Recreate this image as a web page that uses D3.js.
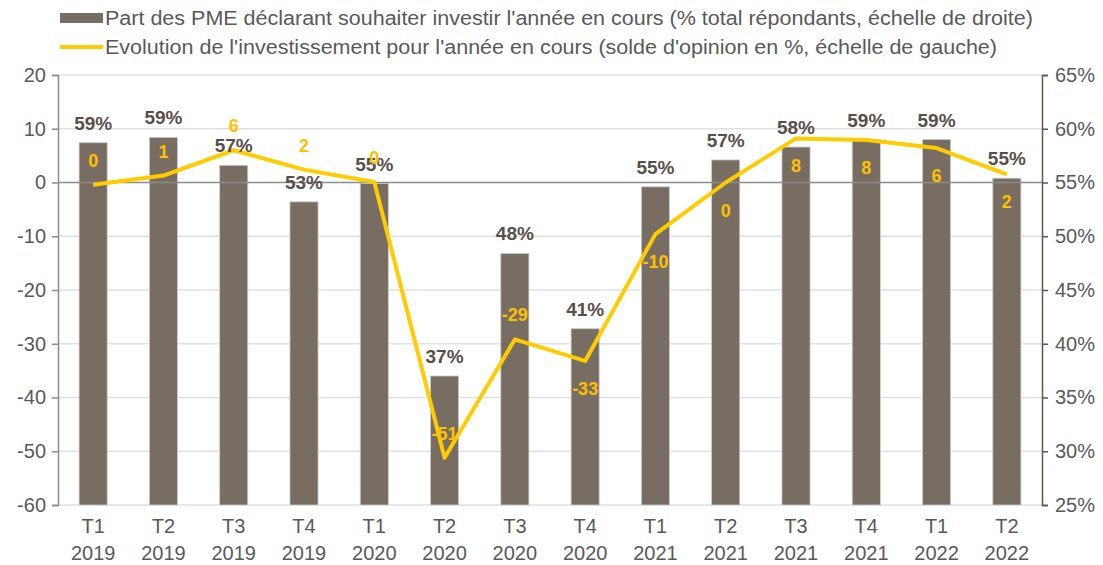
<!DOCTYPE html>
<html>
<head>
<meta charset="utf-8">
<script src="https://cdn.jsdelivr.net/npm/d3@7"></script>
<style>
  body { margin: 0; background: #fff; }
  text { font-family: "Liberation Sans", Arial, sans-serif; }
</style>
</head>
<body>
<script>
//chart data
var quarters = ["T1", "T2", "T3", "T4", "T1", "T2", "T3", "T4", "T1", "T2", "T3", "T4", "T1", "T2"];
var years = ["2019", "2019", "2019", "2019", "2020", "2020", "2020", "2020", "2021", "2021", "2021", "2021", "2022", "2022"];
//share of SMEs wanting to invest (right axis, %)
var shareValues = [58.7, 59.2, 56.6, 53.2, 54.9, 37.0, 48.4, 41.4, 54.6, 57.1, 58.3, 59.0, 59.0, 55.4];
//opinion balance (left axis)
var balanceValues = [-0.4, 1.3, 6.0, 2.4, 0.1, -51.2, -29.2, -33.2, -9.6, 0.0, 8.2, 7.9, 6.4, 1.5];
//where excel put the line labels
var balanceLabelSide = ["above", "above", "above", "above", "above", "above", "above",
                        "below", "below", "below", "below", "below", "below", "below"];
var leftTicks = [-60, -50, -40, -30, -20, -10, 0, 10, 20];
var rightTicks = [25, 30, 35, 40, 45, 50, 55, 60, 65];
var legendLabels = [
    "Part des PME déclarant souhaiter investir l'année en cours (% total répondants, échelle de droite)",
    "Evolution de l'investissement pour l'année en cours (solde d'opinion en %, échelle de gauche)"
];

var w = 1103, h = 565;
var plotLeft = 58, plotRight = 1042, plotTop = 75, plotBottom = 505;
var barColor = "#786d62", lineColor = "#ffcc00", textColor = "#595959";

var svg = d3.select("body").append("svg")
    .attr("width", w)
    .attr("height", h);

var idx = d3.range(quarters.length);

var x = d3.scaleBand()
    .domain(idx)
    .range([plotLeft, plotRight])
    .paddingInner(0.6)
    .paddingOuter(0.3);

var yLeft = d3.scaleLinear().domain([-60, 20]).range([plotBottom, plotTop]);
var yRight = d3.scaleLinear().domain([25, 65]).range([plotBottom, plotTop]);

//gridlines
svg.append("g")
    .selectAll("line")
    .data(leftTicks.filter(function(d){ return d !== 0; }))
    .enter()
    .append("line")
    .attr("x1", plotLeft)
    .attr("x2", plotRight)
    .attr("y1", function(d){ return yLeft(d); })
    .attr("y2", function(d){ return yLeft(d); })
    .style("stroke", "#e0e0e0")
    .style("stroke-width", 1.3);

//bars
svg.append("g")
    .selectAll("rect")
    .data(shareValues)
    .enter()
    .append("rect")
    .attr("x", function(d, i){ return x(i); })
    .attr("width", x.bandwidth())
    .attr("y", function(d){ return yRight(d); })
    .attr("height", function(d){ return plotBottom - yRight(d); })
    .style("fill", barColor)
    .style("stroke", "#d0ccc8")
    .style("stroke-width", 0.8);

//zero line
svg.append("line")
    .attr("x1", plotLeft)
    .attr("x2", plotRight)
    .attr("y1", yLeft(0))
    .attr("y2", yLeft(0))
    .style("stroke", "#8c8c8c")
    .style("stroke-width", 1.5);

//left axis (plain hyphen minus like excel)
var leftAxis = svg.append("g")
    .attr("transform", "translate(" + plotLeft + ",0)")
    .call(d3.axisLeft(yLeft).tickValues(leftTicks).tickSize(6).tickPadding(6)
        .tickFormat(function(d){ return String(d); }));
leftAxis.select(".domain").style("stroke", "#8c8c8c").style("stroke-width", 1.5);
leftAxis.selectAll(".tick line").style("stroke", "#8c8c8c").style("stroke-width", 1.5);
leftAxis.selectAll("text").style("font-size", "20px").style("fill", textColor)
    .style("font-family", "Liberation Sans, Arial, sans-serif");

//right axis
var rightAxis = svg.append("g")
    .attr("transform", "translate(" + plotRight + ",0)")
    .call(d3.axisRight(yRight).tickValues(rightTicks).tickSize(6).tickPadding(7)
        .tickFormat(function(d){ return d + "%"; }));
rightAxis.select(".domain").style("stroke", "#5f5450").style("stroke-width", 1.5);
rightAxis.selectAll(".tick line").style("stroke", "#5f5450").style("stroke-width", 1.5);
rightAxis.selectAll("text").style("font-size", "20px").style("fill", textColor)
    .style("font-family", "Liberation Sans, Arial, sans-serif");

//category labels
var catLabels = svg.append("g")
    .selectAll("text")
    .data(idx)
    .enter()
    .append("text")
    .attr("text-anchor", "middle")
    .style("font-size", "20px")
    .style("fill", textColor);
catLabels.append("tspan")
    .attr("x", function(d){ return x(d) + x.bandwidth() / 2; })
    .attr("y", 533)
    .text(function(d){ return quarters[d]; });
catLabels.append("tspan")
    .attr("x", function(d){ return x(d) + x.bandwidth() / 2; })
    .attr("y", 560)
    .text(function(d){ return years[d]; });

//line
var line = d3.line()
    .x(function(d, i){ return x(i) + x.bandwidth() / 2; })
    .y(function(d){ return yLeft(d); });

svg.append("path")
    .datum(balanceValues)
    .attr("d", line)
    .style("fill", "none")
    .style("stroke", lineColor)
    .style("stroke-width", 4)
    .style("stroke-linejoin", "round");

//bar labels
svg.append("g")
    .selectAll("text")
    .data(shareValues)
    .enter()
    .append("text")
    .attr("text-anchor", "middle")
    .attr("x", function(d, i){ return x(i) + x.bandwidth() / 2; })
    .attr("y", function(d){ return yRight(d) - 13; })
    .style("font-size", "19px")
    .style("font-weight", "bold")
    .style("fill", "#594f4a")
    .text(function(d){ return Math.round(d) + "%"; });

//line labels
svg.append("g")
    .selectAll("text")
    .data(balanceValues)
    .enter()
    .append("text")
    .attr("text-anchor", "middle")
    .attr("x", function(d, i){ return x(i) + x.bandwidth() / 2; })
    .attr("y", function(d, i){
        return balanceLabelSide[i] === "above" ? yLeft(d) - 18 : yLeft(d) + 34;
    })
    .style("font-size", "18px")
    .style("font-weight", "bold")
    .style("fill", "#ffc000")
    .text(function(d){ return String(Math.round(d) || 0); });

//legend
var legend = svg.append("g");
legend.append("rect")
    .attr("x", 60)
    .attr("y", 13)
    .attr("width", 43)
    .attr("height", 10)
    .style("fill", barColor);
legend.append("line")
    .attr("x1", 60)
    .attr("x2", 103)
    .attr("y1", 47)
    .attr("y2", 47)
    .style("stroke", lineColor)
    .style("stroke-width", 4);
legend.selectAll(".legendText")
    .data(legendLabels)
    .enter()
    .append("text")
    .attr("class", "legendText")
    .attr("x", 105)
    .attr("y", function(d, i){ return 25 + i * 29; })
    .style("font-size", "20px")
    .style("fill", textColor)
    .text(function(d){ return d; })
    .each(function(){
        //reference text is a bit wider than liberation sans
        var len = this.getComputedTextLength();
        d3.select(this)
            .attr("textLength", len * 1.075)
            .attr("lengthAdjust", "spacingAndGlyphs");
    });
</script>
</body>
</html>
